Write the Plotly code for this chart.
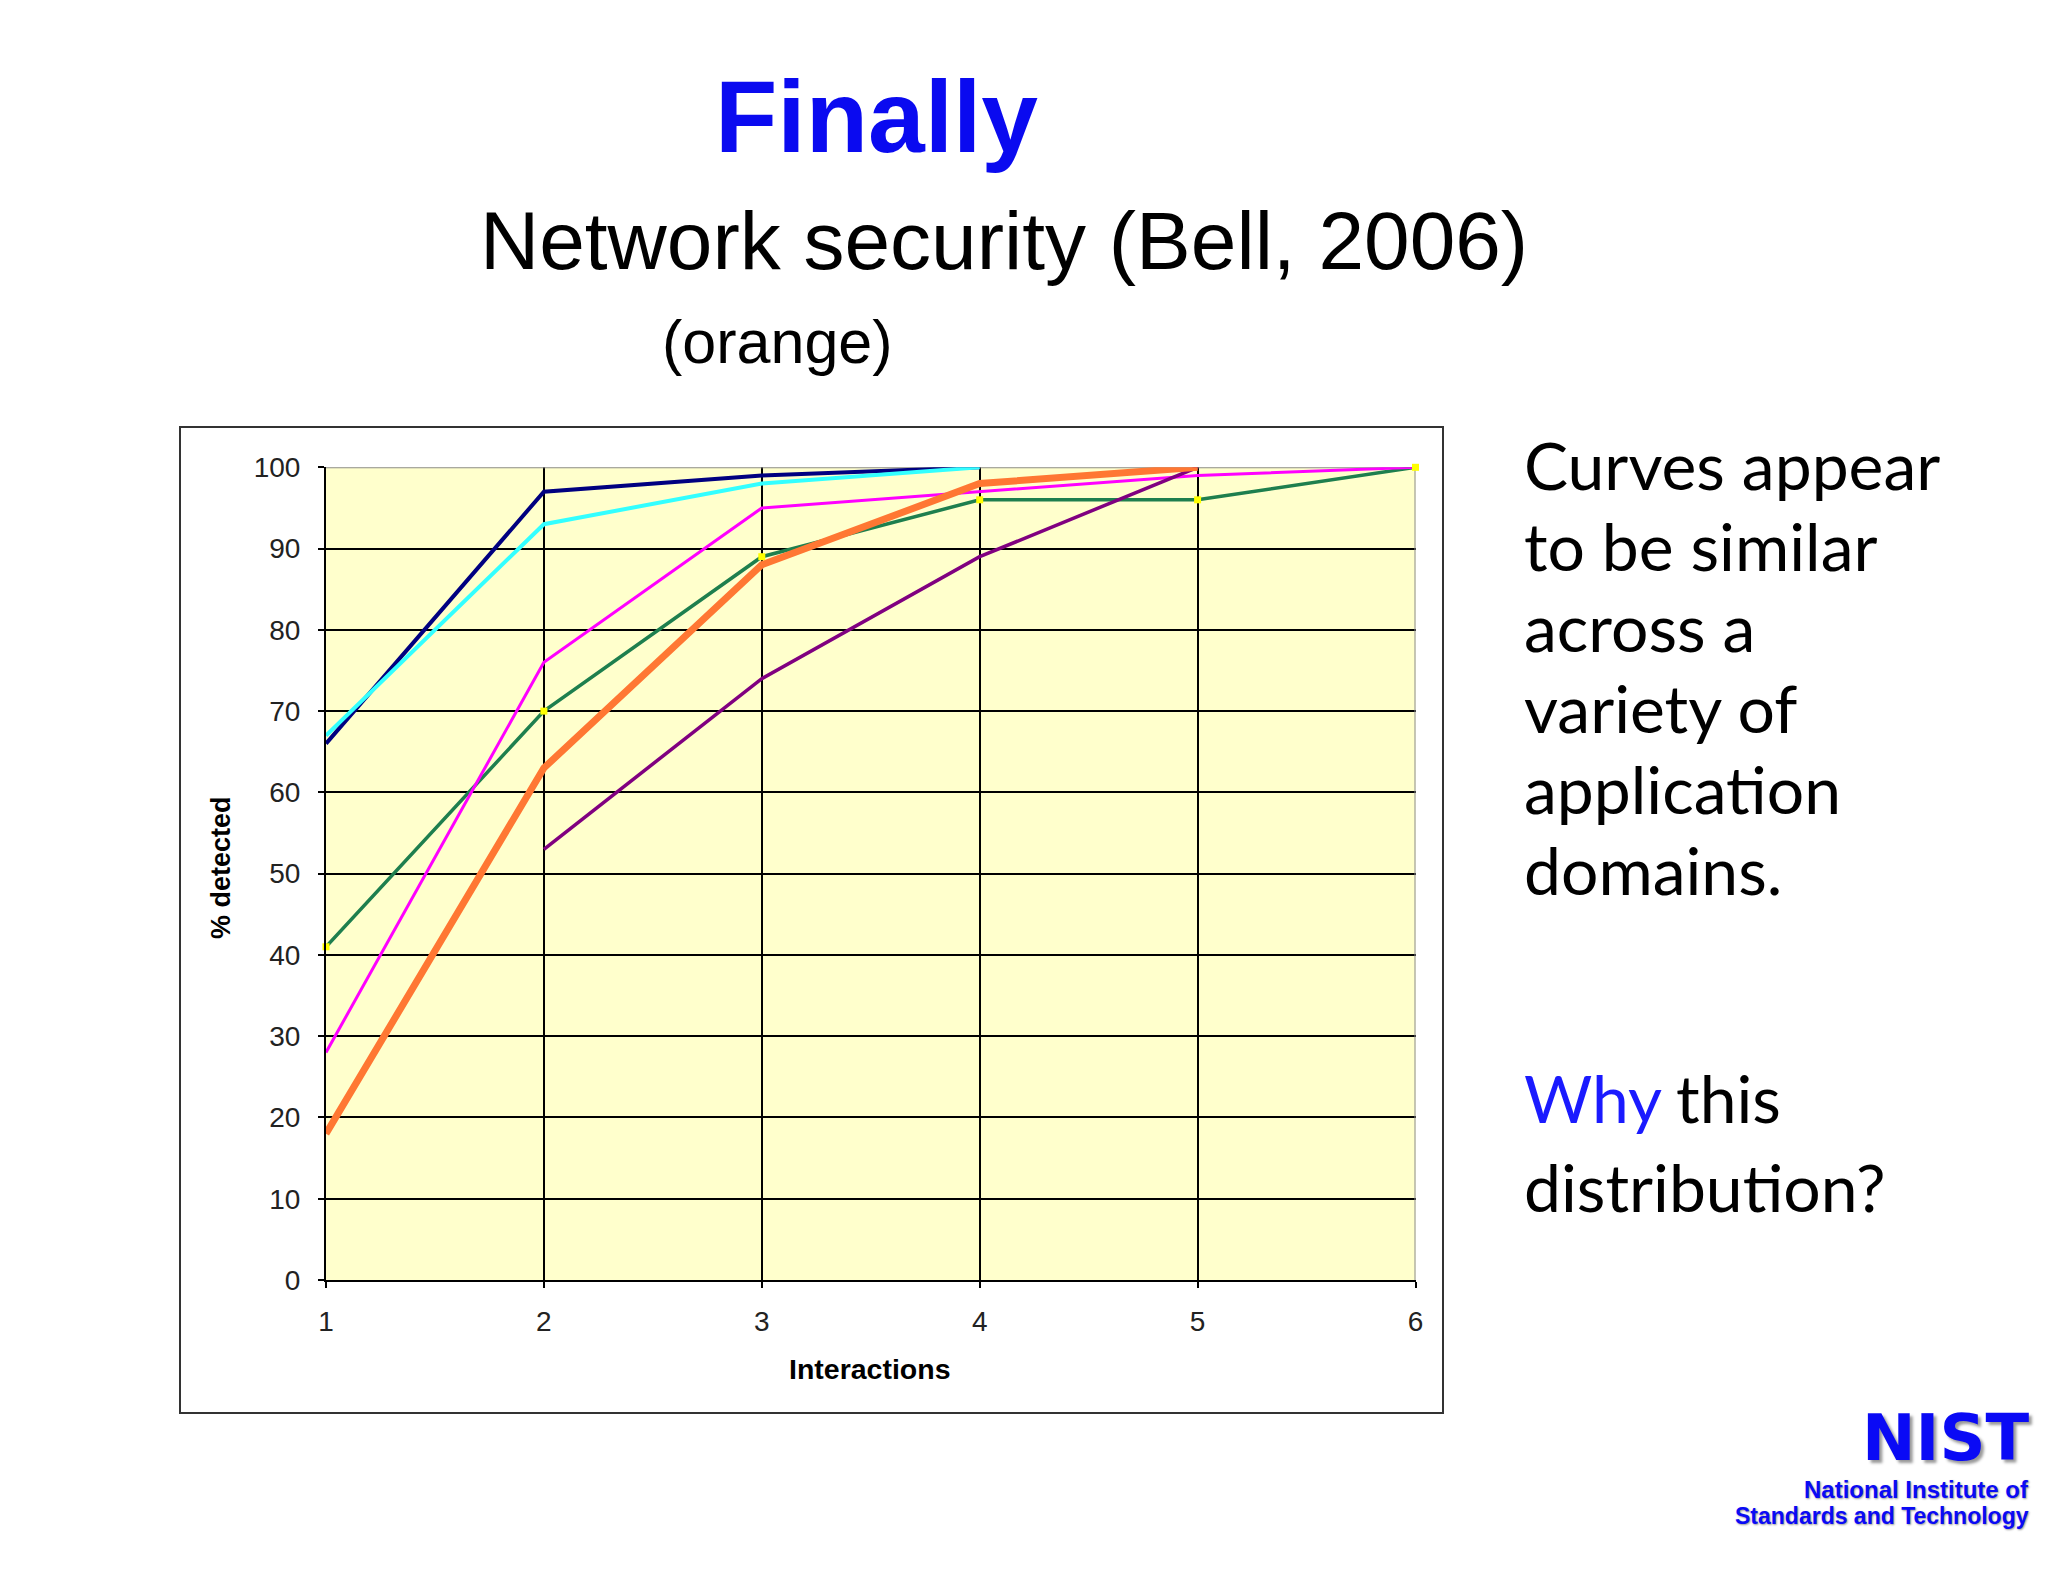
import plotly.graph_objects as go

interactions = [1, 2, 3, 4, 5, 6]
navy_vals = [66, 97, 99, 100, None, None]
cyan_vals = [67, 93, 98, 100, None, None]
green_vals = [41, 70, 89, 96, 96, 100]
magenta_vals = [28, 76, 95, 97, 99, 100]
purple_vals = [None, 53, 74, 89, 100, None]
orange_vals = [18, 63, 88, 98, 100, None]
y_ticks = [0, 10, 20, 30, 40, 50, 60, 70, 80, 90, 100]

# figure sized so that figure + default 8px body margin fits the 2048x1582 window
W, H = 2030, 1562
OFF = 8
def px(x):
    return (x - OFF) / W
def py(y):
    return 1 - (y - OFF) / H

PL, PR, PT, PB = 326, 1415.5, 467.3, 1280

fig = go.Figure()

series = [
    (navy_vals, "#000080", 4),
    (cyan_vals, "#33FFFF", 4),
    (green_vals, "#1E7F4E", 3.5),
    (magenta_vals, "#FF00FF", 3),
    (purple_vals, "#800080", 3.5),
    (orange_vals, "#FF7733", 7),
]
for vals, col, w in series:
    fig.add_trace(go.Scatter(x=interactions, y=vals, mode="lines",
                             line=dict(color=col, width=w), showlegend=False,
                             connectgaps=False))

fig.add_trace(go.Scatter(x=interactions, y=green_vals, mode="markers",
                         marker=dict(color="#FFFF00", size=7, symbol="square"),
                         showlegend=False, cliponaxis=False))

axis_font = dict(family="Liberation Sans, Arial", size=28, color="#222222")

fig.update_layout(
    width=W, height=H,
    margin=dict(l=0, r=0, t=0, b=0),
    paper_bgcolor="white",
    plot_bgcolor="#FFFFCC",
    xaxis=dict(domain=[px(PL), px(PR)], range=[1, 6], tickvals=interactions,
               showgrid=True, gridcolor="black", gridwidth=2,
               showline=True, linecolor="black", linewidth=2,
               ticks="outside", ticklen=6, tickwidth=2, tickcolor="black",
               tickfont=axis_font, zeroline=False, ticklabelstandoff=9,
               automargin=False),
    yaxis=dict(domain=[py(PB), py(PT)], range=[0, 100], tickvals=y_ticks,
               showgrid=True, gridcolor="black", gridwidth=2,
               showline=True, linecolor="black", linewidth=2,
               ticks="outside", ticklen=6, tickwidth=2, tickcolor="black",
               tickfont=axis_font, zeroline=False, ticklabelstandoff=12,
               automargin=False),
)

# plot area border (top/right gray)
fig.add_shape(type="line", xref="x", yref="y", x0=1, x1=6, y0=100, y1=100,
              line=dict(color="#8C8C8C", width=2), layer="between")
fig.add_shape(type="line", xref="x", yref="y", x0=6, x1=6, y0=0, y1=100,
              line=dict(color="#8C8C8C", width=2), layer="between")

# chart outer box
fig.add_shape(type="rect", xref="paper", yref="paper",
              x0=px(180), x1=px(1443), y0=py(1413), y1=py(427),
              line=dict(color="#333333", width=2), fillcolor="rgba(0,0,0,0)", layer="below")

ann = []
def add(text, x, y, font, xanchor="center", yanchor="middle", angle=0):
    ann.append(dict(text=text, x=px(x), y=py(y), xref="paper", yref="paper",
                    xanchor=xanchor, yanchor=yanchor, showarrow=False, align="left",
                    textangle=angle, font=font))

add("<b>% detected</b>", 221, 868, dict(family="Liberation Sans, Arial", size=27, color="black"), angle=-90)
add("<b>Interactions</b>", 870, 1369, dict(family="Liberation Sans, Arial", size=28.5, color="black"))

add("<b>Finally</b>", 876, 117.3, dict(family="Liberation Sans, Arial", size=102, color="#0A0AF0"))
add("Network security (Bell, 2006)", 1004, 241, dict(family="Liberation Sans, Arial", size=82, color="black"))
add("(orange)", 777, 342, dict(family="Liberation Sans, Arial", size=61, color="black"))

side_size = 66
side_font = dict(family="Lato, Open Sans, sans-serif", size=side_size, color="black")
side_lines = ["Curves appear", "to be similar", "across a", "variety of", "application", "domains."]
side_base = [488, 569, 650, 731, 812, 893]
for t, b in zip(side_lines, side_base):
    add(t, 1522, b - 0.35 * side_size, side_font, xanchor="left")
add("Why", 1522, 1121 - 0.35 * side_size,
    dict(family="Lato, Open Sans, sans-serif", size=side_size, color="#1A1AFF"), xanchor="left")
add("this", 1674, 1121 - 0.35 * side_size, side_font, xanchor="left")
add("distribution?", 1522, 1210 - 0.35 * side_size, side_font, xanchor="left")

# NIST logo
logo_col = "#0A0AF5"
add("<b>NIST</b>", 2031, 1438, dict(family="DejaVu Sans, Liberation Sans, Arial", size=64, color=logo_col,
                                      shadow="3px 3px 3px #999999"), xanchor="right")
add("<b>National Institute of</b>", 2031, 1489, dict(family="Liberation Sans, Arial", size=24, color=logo_col,
                                                      shadow="1px 1px 2px #999999"), xanchor="right")
add("<b>Standards and Technology</b>", 2031, 1516, dict(family="Liberation Sans, Arial", size=23, color=logo_col,
                                                         shadow="1px 1px 2px #999999"), xanchor="right")

fig.update_layout(annotations=ann)

fig.write_html("out.html")
